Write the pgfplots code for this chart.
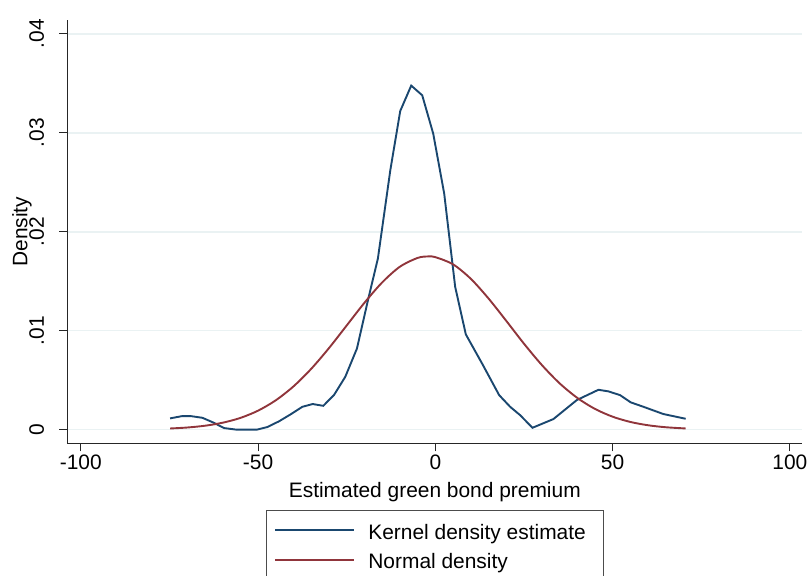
\documentclass[border=0pt]{standalone}
\usepackage{pgfplots}
\pgfplotsset{compat=1.18}
\usepackage{fontspec}
\setmainfont{Liberation Sans}
\definecolor{stblue}{HTML}{1A476F}
\definecolor{stred}{HTML}{90353B}
\definecolor{gridc}{HTML}{EAF2F3}
\newcommand{\bigfont}{\fontsize{21}{25}\selectfont}
\begin{document}
\begin{tikzpicture}
\begin{axis}[
  at={(0,0)}, anchor=south west,
  scale only axis, width=735bp, height=423.3bp,
  xmin=-103.8, xmax=103.5, ymin=-0.00139, ymax=0.0414,
  axis lines*=left,
  axis line style={line width=1.1bp, black!85},
  scaled y ticks=false,
  xtick={-100,-50,0,50,100}, xticklabels={-100,-50,0,50,100},
  ytick={0,0.01,0.02,0.03,0.04}, yticklabels={0,.01,.02,.03,.04},
  tick align=outside, major tick length=8bp,
  tick style={line width=1bp, black!85},
  ymajorgrids, grid style={line width=1.6bp, gridc},
  ticklabel style={font=\bigfont},
  yticklabel style={rotate=90, anchor=south, inner sep=0pt},
  yticklabel shift=15bp,
  xlabel={Estimated green bond premium},
  ylabel={Density},
  label style={font=\bigfont},
  xlabel style={at={(axis description cs:0.5,-0.1269)}, anchor=base},
  ylabel style={at={(axis description cs:-0.0544,0.5)}, anchor=base},
  legend style={at={(0.5,-0.1585)}, anchor=north, draw=black!70, line width=1bp,
    font=\bigfont, inner xsep=17.7bp, inner ysep=8.3bp, row sep=0pt,
    nodes={inner xsep=0pt, inner ysep=4.8bp, text height=15.3bp, text depth=4.5bp}},
  legend cell align=left,
  legend image code/.code={\path[draw=none, fill=none] (0bp,-4bp) rectangle (84.6bp,10bp);
    \draw[#1, overlay] (-8.7bp,3.5bp) -- (70.6bp,3.5bp);},
]
\addplot[stblue, line width=1.9bp] coordinates {
(-74.8,0.00113) (-71.4,0.00136) (-69.0,0.00136) (-65.7,0.00119) (-62.5,0.00069)
(-59.6,0.00015) (-56.3,0.00000) (-53.3,0.00000) (-50.2,0.00000) (-47.4,0.00025)
(-44.1,0.00083) (-40.8,0.00154) (-37.5,0.00230) (-34.6,0.00258) (-31.6,0.00240)
(-28.6,0.00348) (-25.4,0.00533) (-22.1,0.00820) (-19.0,0.01308) (-16.2,0.01729)
(-12.7,0.02621) (-9.9,0.03220) (-6.8,0.03477) (-3.7,0.03379) (-0.6,0.02992)
(2.5,0.02386) (5.6,0.01442) (8.6,0.00962) (13.3,0.00660) (18.0,0.00348)
(21.1,0.00230) (23.9,0.00146) (27.4,0.00018) (33.3,0.00106) (39.9,0.00298)
(46.0,0.00402) (48.8,0.00386) (52.1,0.00348) (55.1,0.00275) (58.7,0.00230)
(64.3,0.00157) (70.6,0.00109)
};
\addlegendentry{Kernel density estimate}
\addplot[stred, line width=1.9bp, smooth] coordinates {
(-74.8,0.000107) (-70,0.000205) (-65,0.000385) (-60,0.000688) (-55,0.001174)
(-50,0.001908) (-45,0.002958) (-40,0.004365) (-35,0.006141) (-30,0.008232)
(-25,0.01052) (-20,0.01281) (-15,0.01487) (-10,0.01646) (-5,0.01735)
(-2,0.01750) (0,0.01743) (5,0.01670) (10,0.01524) (15,0.01325)
(20,0.01099) (25,0.00868) (30,0.00654) (35,0.00469) (40,0.00321)
(45,0.00209) (50,0.00130) (55,0.000769) (60,0.000434) (65,0.000233)
(70.6,0.000110)
};
\addlegendentry{Normal density}
\end{axis}
\pgfresetboundingbox
\path (-67.3bp,-132.7bp) rectangle (739.7bp,443.3bp);
\end{tikzpicture}
\end{document}
